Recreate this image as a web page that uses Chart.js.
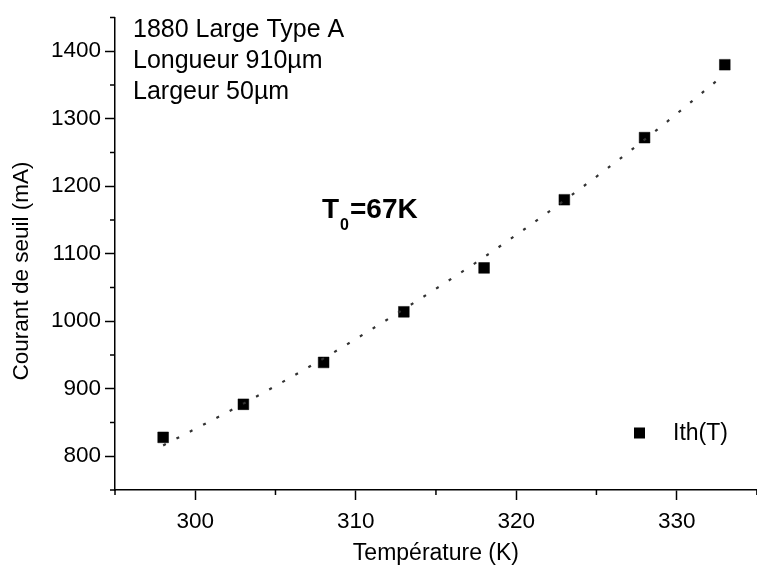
<!DOCTYPE html>
<html>
<head>
<meta charset="utf-8">
<script src="https://cdn.jsdelivr.net/npm/chart.js@4.4.1/dist/chart.umd.min.js"></script>
<style>
  html, body { margin: 0; padding: 0; background: #fff; overflow: hidden; }
  #wrap { position: relative; width: 765px; height: 571px; }
</style>
</head>
<body>
<div id="wrap"><canvas id="c"></canvas></div>
<script>
// ---- Data ----
const temperatures = [298, 303, 308, 313, 318, 323, 328, 333];          // K
const ithValues    = [828, 877, 939, 1014, 1079, 1180, 1272, 1380];     // mA
const fitTemperatures = [298, 303, 308, 313, 318, 323, 328, 333];       // K (dotted fit)
const fitValues       = [816, 878, 945, 1018, 1095, 1179, 1269, 1366];  // mA
const xTickLabels = [300, 310, 320, 330];
const yTickLabels = [800, 900, 1000, 1100, 1200, 1300, 1400];
const seriesName = 'Ith(T)';
const infoLines = ['1880 Large Type A', 'Longueur 910µm', 'Largeur 50µm'];
const xTitle = 'Température (K)';
const yTitle = 'Courant de seuil (mA)';

const FONT = "'Liberation Sans', Arial, sans-serif";

const pointsData = temperatures.map((t, i) => ({ x: t, y: ithValues[i] }));
const fitData = fitTemperatures.map((t, i) => ({ x: t, y: fitValues[i] }));

const annotatePlugin = {
  id: 'annotate',
  afterDraw(chart) {
    const ctx = chart.ctx;
    const xs = chart.scales.x, ys = chart.scales.y;
    const area = chart.chartArea;
    ctx.save();
    // minor ticks
    ctx.strokeStyle = '#000';
    ctx.lineWidth = 1.5;
    for (let v = 295; v <= 335; v += 5) {
      if (v % 10 === 0) continue;
      const px = xs.getPixelForValue(v);
      ctx.beginPath(); ctx.moveTo(px, area.bottom); ctx.lineTo(px, area.bottom + 5); ctx.stroke();
    }
    for (let v = 750; v <= 1450; v += 50) {
      if (v % 100 === 0) continue;
      const py = ys.getPixelForValue(v);
      ctx.beginPath(); ctx.moveTo(area.left, py); ctx.lineTo(area.left - 5, py); ctx.stroke();
    }
    ctx.fillStyle = '#000';
    // y axis title
    ctx.save();
    ctx.translate(22, 271);
    ctx.rotate(-Math.PI / 2);
    ctx.font = '22.5px ' + FONT;
    ctx.textAlign = 'center';
    ctx.textBaseline = 'middle';
    ctx.fillText(yTitle, 0, 0);
    ctx.restore();
    // info text
    ctx.textAlign = 'left';
    ctx.textBaseline = 'alphabetic';
    ctx.font = '25px ' + FONT;
    const bases = [37, 68, 99];
    infoLines.forEach((s, i) => ctx.fillText(s, 133, bases[i]));
    // T0 label
    let x = 322;
    ctx.font = 'bold 28px ' + FONT;
    ctx.fillText('T', x, 218);
    x += ctx.measureText('T').width;
    ctx.font = 'bold 16px ' + FONT;
    ctx.fillText('0', x + 1, 230);
    x += ctx.measureText('0').width + 2;
    ctx.font = 'bold 28px ' + FONT;
    ctx.fillText('=67K', x, 218);
    // legend
    ctx.fillRect(634, 427.5, 11, 11);
    ctx.font = '23px ' + FONT;
    ctx.textBaseline = 'middle';
    ctx.fillText(seriesName, 673, 434);
    ctx.restore();
  }
};

new Chart(document.getElementById('c'), {
  type: 'scatter',
  data: {
    datasets: [
      {
        label: 'fit',
        data: fitData,
        showLine: true,
        pointRadius: 0,
        borderColor: '#333',
        borderWidth: 2.2,
        borderDash: [3, 12],
        cubicInterpolationMode: 'monotone',
        fill: false
      },
      {
        label: seriesName,
        data: pointsData,
        pointStyle: 'rect',
        pointRadius: 7.6,
        pointBackgroundColor: '#000',
        pointBorderColor: '#000',
        pointBorderWidth: 0.5,
        showLine: false
      }
    ]
  },
  options: {
    responsive: true,
    maintainAspectRatio: false,
    animation: false,
    devicePixelRatio: 1,
    layout: { padding: { top: 10, left: 0, right: 0.7, bottom: 0 } },
    plugins: { legend: { display: false }, tooltip: { enabled: false } },
    scales: {
      x: {
        type: 'linear',
        min: 295, max: 335,
        afterFit(scale) { scale.height = 81; },
        ticks: {
          stepSize: 5,
          autoSkip: false,
          maxRotation: 0,
          color: '#000',
          font: { family: FONT, size: 22.5 },
          padding: 8,
          callback: (v) => xTickLabels.includes(v) ? String(v) : ''
        },
        grid: {
          display: true,
          drawOnChartArea: false,
          drawTicks: true,
          tickLength: 10,
          tickWidth: 1.5,
          tickColor: (c) => (c.tick && xTickLabels.includes(c.tick.value)) ? '#000' : 'rgba(0,0,0,0)'
        },
        border: { display: true, color: '#000', width: 1.5 },
        title: {
          display: true, text: xTitle, color: '#000',
          font: { family: FONT, size: 23 },
          padding: { top: 4, bottom: 4 }
        }
      },
      y: {
        type: 'linear',
        min: 750, max: 1450,
        afterFit(scale) { scale.width = 115; },
        ticks: {
          stepSize: 50,
          autoSkip: false,
          color: '#000',
          font: { family: FONT, size: 22.5 },
          padding: 4,
          callback: (v) => yTickLabels.includes(v) ? String(v) : ''
        },
        grid: {
          display: true,
          drawOnChartArea: false,
          drawTicks: true,
          tickLength: 10,
          tickWidth: 1.5,
          tickColor: (c) => (c.tick && yTickLabels.includes(c.tick.value)) ? '#000' : 'rgba(0,0,0,0)'
        },
        border: { display: true, color: '#000', width: 1.5 },
        title: { display: false }
      }
    }
  },
  plugins: [annotatePlugin]
});
</script>
</body>
</html>
